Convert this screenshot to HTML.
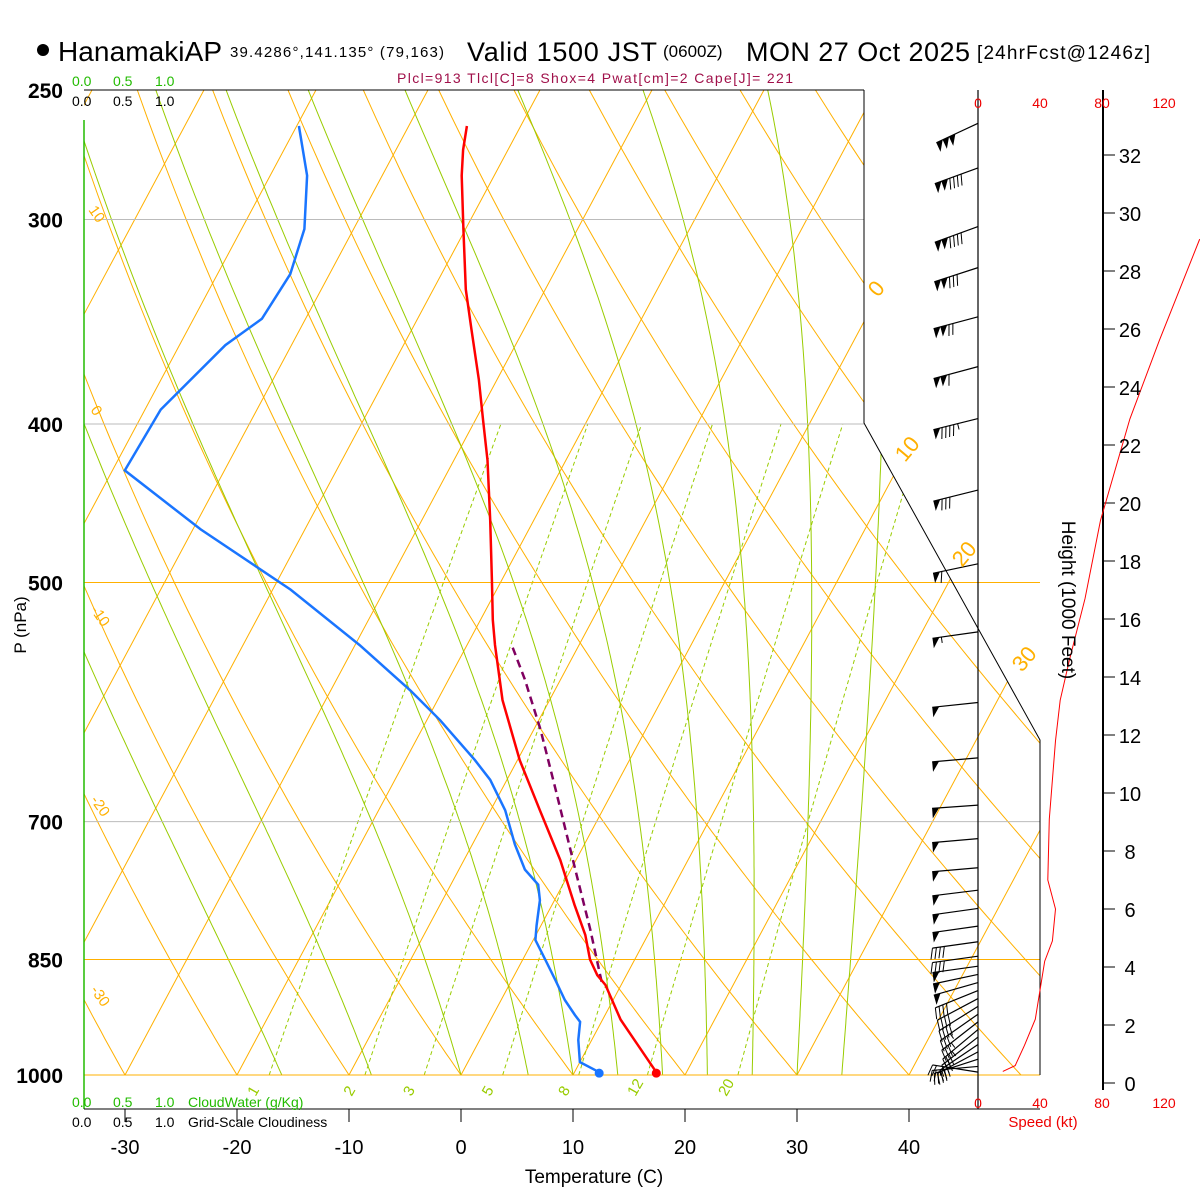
<!DOCTYPE html>
<html><head><meta charset="utf-8"><style>
html,body{margin:0;padding:0;background:#fff;}
svg{display:block;font-family:"Liberation Sans",sans-serif;}
</style></head><body>
<svg id="c" width="1200" height="1200" viewBox="0 0 1200 1200" xmlns="http://www.w3.org/2000/svg">
<defs><clipPath id="pc"><polygon points="84,90 864,90 864,423 1040,740 1040,1075 84,1075"/></clipPath></defs>
<g id="bg" clip-path="url(#pc)"></g>
<g id="bg2"></g>
<g id="series"></g>
<g id="txt">
<circle cx="43" cy="50" r="6" fill="#000"/>
<text x="58" y="61" font-size="28" textLength="164">HanamakiAP</text>
<text x="230" y="57" font-size="15" textLength="214">39.4286°,141.135° (79,163)</text>
<text x="467" y="61" font-size="27" textLength="190">Valid 1500 JST</text>
<text x="663" y="57" font-size="17">(0600Z)</text>
<text x="746" y="61" font-size="27" textLength="224">MON 27 Oct 2025</text>
<text x="977" y="59" font-size="19" textLength="173">[24hrFcst@1246z]</text>
<text x="397" y="83" font-size="14" fill="#a0104a" textLength="396">Plcl=913 Tlcl[C]=8 Shox=4 Pwat[cm]=2 Cape[J]= 221</text>
<text x="72" y="86" font-size="14" fill="#22bb00">0.0</text>
<text x="113" y="86" font-size="14" fill="#22bb00">0.5</text>
<text x="155" y="86" font-size="14" fill="#22bb00">1.0</text>
<text x="72" y="106" font-size="14">0.0</text>
<text x="113" y="106" font-size="14">0.5</text>
<text x="155" y="106" font-size="14">1.0</text>
<text x="72" y="1107" font-size="14" fill="#22bb00">0.0</text>
<text x="113" y="1107" font-size="14" fill="#22bb00">0.5</text>
<text x="155" y="1107" font-size="14" fill="#22bb00">1.0</text>
<text x="188" y="1107" font-size="14" fill="#22bb00">CloudWater (g/Kg)</text>
<text x="72" y="1127" font-size="14">0.0</text>
<text x="113" y="1127" font-size="14">0.5</text>
<text x="155" y="1127" font-size="14">1.0</text>
<text x="188" y="1127" font-size="14">Grid-Scale Cloudiness</text>
<text x="594" y="1183" font-size="19" text-anchor="middle">Temperature (C)</text>
<text x="26" y="625" font-size="17" transform="rotate(-90 26 625)" text-anchor="middle">P (nPa)</text>
<text x="1062" y="600" font-size="19" transform="rotate(90 1062 600)" text-anchor="middle">Height (1000 Feet)</text>
<text x="1043" y="1127" font-size="15" fill="#e00" text-anchor="middle">Speed (kt)</text>
</g>
</svg>
<script>
// ---- data ----
const tempP=[996,925,881,869,850,821,787,739,689,642,590,546,527,498,458,421,398,376,350,331,304,282,272,263];
const tempT=[17.3,11.6,8.6,7.4,6.0,4.4,2.0,-1.4,-5.6,-9.8,-14.2,-17.5,-18.9,-20.9,-23.9,-27.0,-29.3,-31.6,-34.7,-37.1,-40.2,-42.9,-44.0,-44.8];
const dewP=[996,982,952,928,919,900,875,850,827,810,782,765,749,723,689,660,642,607,582,546,505,464,427,392,358,345,324,304,282,263];
const dewT=[12.2,10.0,8.8,8.1,7.3,5.7,3.9,2.0,0.2,-0.4,-1.3,-2.2,-4.1,-6.2,-8.7,-11.5,-13.8,-18.8,-22.9,-29.6,-38.4,-49.3,-58.9,-58.6,-55.9,-53.9,-53.5,-54.4,-56.7,-59.8];
const parcelP=[877,815,749,669,615,573,548];
const parcelT=[8.1,4.6,0.4,-5.2,-9.4,-13.2,-15.8];
const spdH=[0.4,0.6,1.3,2.2,3.2,4.2,4.9,6.0,7.0,9.1,11.8,13.2,14.6,16.7,19.4,22.9,25.6,29.1];
const spdV=[16,24,30,37,40,43,48,50,45,46,50,53,59,69,79,98,117,143];
const barbP=[262,279,303,321,344,369,397,439,487,536,592,640,684,717,747,771,791,811,829,846,858,868,878,888,898,908,918,928,938,948,958,968,978,988,996];
const barbS=[150,140,140,130,120,110,95,80,60,55,50,50,50,50,50,50,50,50,40,40,50,50,50,40,40,40,35,35,35,30,30,30,25,25,20];
const barbD=[245,250,250,252,255,255,256,256,258,262,264,265,266,265,265,263,262,262,262,262,262,258,254,248,242,238,235,232,230,232,236,242,252,265,279];
const xTicks=[-30,-20,-10,0,10,20,30,40];
const pTicks=[250,300,400,500,700,850,1000];
const hTicks=[0,2,4,6,8,10,12,14,16,18,20,22,24,26,28,30,32];
const spdTicks=[0,40,80,120];
const mixW=[1,2,3,5,8,12,20];
const moistStart=[-16,-8,0,6,10,14,18,22,26,30,34];
// ---- axes ----
const Y=p=>90+Math.log(p/250)/Math.log(4)*985;
const X=(t,p)=>461+11.2*t+0.535*(1075-Y(p));
const HY=h=>1083-h*29;
const SX=s=>978+s*62/40;
const NS="http://www.w3.org/2000/svg";
function el(tag,attrs,parent){const e=document.createElementNS(NS,tag);for(const k in attrs)e.setAttribute(k,attrs[k]);parent.appendChild(e);return e;}
const bg=document.getElementById('bg'),bg2=document.getElementById('bg2'),ser=document.getElementById('series'),txt=document.getElementById('txt');
const OR="#ffb000",GR="#99cc00";
for(let t=-120;t<=40;t+=10){const l=el('line',{x1:X(t,1000),y1:Y(1000),x2:X(t,250),y2:Y(250),stroke:OR,'stroke-width':1},bg);
}
for(let th=-40;th<=200;th+=10){let d='';for(let p=1000;p>=250;p-=10){const T=(th+273.15)*Math.pow(p/1000,0.286)-273.15;d+=(p==1000?'M':'L')+X(T,p).toFixed(1)+','+Y(p).toFixed(1);}
const e=el('path',{d:d,fill:'none',stroke:OR,'stroke-width':1},bg);}
function es(T){return 6.112*Math.exp(17.67*T/(T+243.5));}
for(const t0 of moistStart){let T=t0+273.15,d='';for(let p=1000;p>=250;p-=5){const tc=T-273.15;d+=(p==1000?'M':'L')+X(tc,p).toFixed(1)+','+Y(p).toFixed(1);
const e_=es(tc),rs=0.622*e_/(p-e_);const g=(287*T/p)*(1+2.5e6*rs/(287*T))/(1004+2.5e6*2.5e6*rs*0.622/(287*T*T));T-=g*5;}
const e=el('path',{d:d,fill:'none',stroke:GR,'stroke-width':1},bg);}
for(const w of mixW){let d='';for(let p=1000;p>=400;p-=10){const e_=w*p/(622+w),L=Math.log(e_/6.112),T=243.5*L/(17.67-L);d+=(p==1000?'M':'L')+X(T,p).toFixed(1)+','+Y(p).toFixed(1);}
const e=el('path',{d:d,fill:'none',stroke:GR,'stroke-width':1,'stroke-dasharray':'4,3'},bg);
const e2=w*1040/(622+w),L2=Math.log(e2/6.112),T2=243.5*L2/(17.67-L2);const lt=el('text',{x:X(T2,1040)-4,y:1097,'font-size':15,fill:GR,transform:'rotate(-60 '+(X(T2,1040)-4)+' 1097)'},txt);lt.textContent=w;
}
for(const p of pTicks){const y=Y(p);const major=[500,850,1000].includes(p);const x2=(p>=500)?1040:864;
const l=el('line',{x1:84,y1:y,x2:x2,y2:y,stroke:major?OR:'#bbb','stroke-width':1},bg2);
const t=el('text',{x:63,y:y+8,'font-size':21,'text-anchor':'end','font-weight':'bold'},txt);t.textContent=p;}
el('polyline',{points:'864,90 864,423 1040,740 1040,1075',fill:'none',stroke:'#000','stroke-width':1},bg2);
el('line',{x1:84,y1:90,x2:864,y2:90,stroke:'#000'},bg2);
el('line',{x1:84,y1:120,x2:84,y2:1109,stroke:'#22bb00','stroke-width':1.5},bg2);
el('line',{x1:84,y1:1109,x2:1040,y2:1109,stroke:'#000'},bg2);
el('line',{x1:978,y1:90,x2:978,y2:1109,stroke:'#000','stroke-width':1.2},bg2);
el('line',{x1:1103,y1:90,x2:1103,y2:1090,stroke:'#000','stroke-width':2},bg2);
for(const t of xTicks){const x=461+11.2*t;el('line',{x1:x,y1:1109,x2:x,y2:1122,stroke:'#000'},bg2);
const e=el('text',{x:x,y:1154,'font-size':20,'text-anchor':'middle'},txt);e.textContent=t;}
for(const h of hTicks){const y=HY(h);el('line',{x1:1103,y1:y,x2:1115,y2:y,stroke:'#000'},bg2);
const e=el('text',{x:1130,y:y+8,'font-size':20,'text-anchor':'middle'},txt);e.textContent=h;}
for(const s of spdTicks){for(const yy of [108,1108]){const e=el('text',{x:SX(s),y:yy,'font-size':14,fill:'#e00','text-anchor':'middle'},txt);e.textContent=s;}}
[[878,298,'0'],[905,463,'10'],[962,568,'20'],[1022,673,'30']].forEach(a=>{const e=el('text',{x:a[0],y:a[1],'font-size':22,fill:OR,transform:'rotate(-50 '+a[0]+' '+a[1]+')'},txt);e.textContent=a[2];});
[[88,210,'10'],[90,410,'0'],[90,610,'-10'],[90,800,'-20'],[90,990,'-30']].forEach(a=>{const e=el('text',{x:a[0],y:a[1],'font-size':15,fill:OR,transform:'rotate(55 '+a[0]+' '+a[1]+')'},txt);e.textContent=a[2];});
function line(P,T,attrs,name){let d='';P.forEach((p,i)=>{d+=(i?'L':'M')+X(T[i],p).toFixed(1)+','+Y(p).toFixed(1);});attrs.d=d;attrs.fill='none';const e=el('path',attrs,ser);return e;}
line(parcelP,parcelT,{stroke:'#800060','stroke-width':2.5,'stroke-dasharray':'8,5'},'parcel-line');
line(dewP,dewT,{stroke:'#1a75ff','stroke-width':2.5},'dewpoint-line');
line(tempP,tempT,{stroke:'#ff0000','stroke-width':2.5},'temperature-line');
const td=el('circle',{cx:X(dewT[0],dewP[0]),cy:Y(dewP[0])+1,r:4.5,fill:'#1a75ff'},ser);
const tt=el('circle',{cx:X(tempT[0],tempP[0]),cy:Y(tempP[0])+1,r:4.5,fill:'#ff0000'},ser);
{let d='';spdH.forEach((h,i)=>{d+=(i?'L':'M')+SX(spdV[i]).toFixed(1)+','+HY(h).toFixed(1);});const e=el('path',{d:d,fill:'none',stroke:'#ff0000','stroke-width':1},ser);}
barbP.forEach((p,i)=>{const y=Y(p),r=barbD[i]*Math.PI/180,L=46;const ux=Math.sin(r),uy=-Math.cos(r);
const x1=978,y1=y,x0=x1+ux*L,y0=y1+uy*L;const g=el('g',{},ser);
el('line',{x1:x1,y1:y1,x2:x0,y2:y0,stroke:'#000','stroke-width':1.2},g);
let s=barbS[i],pos=0;const px=-uy,py=ux;
while(s>=50){const ax=x0-ux*pos,ay=y0-uy*pos,bx=ax-ux*7,by=ay-uy*7;el('polygon',{points:`${ax},${ay} ${bx},${by} ${ax-px*10},${ay-py*10}`,fill:'#000'},g);pos+=7;s-=50;}
if(pos)pos+=2;
while(s>=10){const ax=x0-ux*pos,ay=y0-uy*pos;el('line',{x1:ax,y1:ay,x2:ax-px*11+ux*3,y2:ay-py*11+uy*3,stroke:'#000','stroke-width':1},g);pos+=4;s-=10;}
if(s>=5){const ax=x0-ux*pos,ay=y0-uy*pos;el('line',{x1:ax,y1:ay,x2:ax-px*6,y2:ay-py*6,stroke:'#000','stroke-width':1},g);}
});
</script>
</body></html>
